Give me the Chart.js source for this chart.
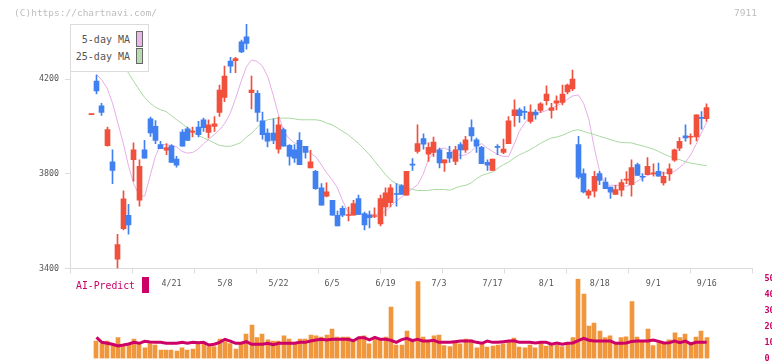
<!DOCTYPE html>
<html>
<head>
<meta charset="utf-8">
<script src="https://cdn.jsdelivr.net/npm/chart.js@4/dist/chart.umd.min.js"></script>
<style>
html,body{margin:0;padding:0;background:#fff;}
#wrap{position:relative;width:772px;height:361px;overflow:hidden;font-family:"DejaVu Sans Mono",monospace;}
canvas{position:absolute;left:0;top:0;}
.t{position:absolute;white-space:pre;line-height:10px;}
#legend{position:absolute;left:70px;top:24px;width:79px;height:48px;box-sizing:border-box;border:1px solid #dcdcdc;background:#fff;}
.sw{position:absolute;width:7px;height:16px;box-sizing:border-box;border:1px solid #666;}
</style>
</head>
<body>
<div id="wrap">
  <canvas id="vol" width="772" height="361"></canvas>
  <canvas id="price" width="772" height="361"></canvas>
  <div class="t" style="left:14px;top:8px;font-size:9.5px;color:#bdbdbd;">(C)https://chartnavi.com/</div>
  <div class="t" style="left:700px;width:57px;text-align:right;top:8px;font-size:9.5px;color:#bdbdbd;">7911</div>
  <div id="legend"></div>
  <div class="t" style="left:72px;width:58px;text-align:right;top:35px;font-size:10px;color:#555;">5-day MA</div>
  <div class="sw" style="left:136px;top:31px;background:#e8b8e8;"></div>
  <div class="t" style="left:72px;width:58px;text-align:right;top:52px;font-size:10px;color:#555;">25-day MA</div>
  <div class="sw" style="left:136px;top:48px;background:#b8dcb0;"></div>
  <div class="t" style="left:76px;top:281px;font-size:9.8px;color:#cc0066;">AI-Predict</div>
  <div style="position:absolute;left:142px;top:277px;width:7px;height:16px;background:#cc0066;"></div>
</div>
<script>
// ---- data ----
const opens = [
4051,4193,4088,3919,3851,3439,3568,3625,3860,3689,
3902,4033,4001,3924,3900,3919,3863,3977,3991,3977,
3998,4029,3975,4001,4060,4124,4277,4279,4359,4380,
4144,4141,4025,3973,3973,3905,3987,3921,3902,3942,
3917,3825,3811,3741,3706,3688,3625,3654,3624,3626,
3696,3632,3626,3620,3589,3660,3678,3715,3751,3710,
3839,3895,3949,3884,3891,3902,3846,3891,3853,3924,
3902,3996,3944,3912,3849,3815,3914,3891,3928,4046,
4071,4062,4022,4061,4068,4110,4068,4099,4102,4147,
4159,3924,3801,3710,3727,3801,3766,3744,3713,3731,
3774,3755,3839,3788,3797,3800,3811,3762,3800,3858,
3909,3961,3955,3956,4037,4034];
const highs = [
4053,4218,4099,3998,3902,3545,3728,3671,3931,3860,
3942,4040,4026,3938,3928,3924,3874,3987,3998,3998,
4022,4036,4029,4043,4176,4256,4293,4293,4366,4433,
4214,4152,4061,3991,4033,4040,3994,3924,3924,3975,
3917,3900,3815,3759,3762,3688,3643,3664,3660,3688,
3710,3639,3643,3657,3710,3741,3755,3759,3755,3811,
3865,4008,3970,3931,3956,3909,3860,3917,3917,3933,
3959,4029,3952,3917,3860,3863,3924,3947,4043,4113,
4078,4085,4092,4071,4102,4172,4099,4130,4176,4180,
4239,3959,3822,3734,3811,3811,3783,3744,3752,3776,
3810,3860,3846,3801,3869,3843,3846,3808,3843,3905,
3954,4008,3970,4050,4064,4096];
const lows = [
4051,4138,4047,3917,3759,3400,3563,3545,3769,3664,
3867,3959,3928,3907,3881,3849,3828,3917,3942,3956,
3956,3980,3952,3980,4043,4106,4228,4228,4313,4328,
4075,4022,3947,3914,3928,3888,3917,3837,3849,3839,
3867,3825,3734,3668,3703,3626,3580,3619,3601,3626,
3629,3563,3572,3615,3580,3622,3660,3664,3713,3710,
3815,3888,3905,3853,3874,3825,3811,3849,3839,3863,
3891,3938,3891,3843,3815,3815,3881,3886,3928,4001,
4018,4032,4015,4032,4060,4092,4036,4071,4092,4138,
4152,3780,3720,3696,3703,3755,3738,3696,3713,3706,
3759,3706,3794,3769,3797,3790,3790,3752,3773,3853,
3898,3938,3926,3940,3989,4022];
const closes = [
4053,4151,4060,3987,3815,3501,3695,3584,3902,3832,
3867,3973,3942,3907,3911,3849,3837,3917,3942,3980,
3966,3996,4008,4012,4155,4214,4256,4288,4316,4352,
4155,4060,3966,3938,3942,4008,3917,3874,3867,3839,
3891,3851,3738,3668,3724,3626,3580,3626,3628,3675,
3629,3584,3615,3622,3696,3720,3741,3713,3713,3811,
3837,3928,3926,3912,3935,3846,3860,3867,3902,3902,
3944,3961,3917,3843,3837,3863,3912,3905,4025,4071,
4046,4060,4061,4050,4096,4138,4080,4109,4138,4176,
4201,3786,3724,3727,3790,3773,3738,3723,3734,3763,
3776,3827,3794,3786,3832,3802,3790,3790,3822,3902,
3938,3952,3957,4050,4035,4081];
const ma5 = [
null,4221,4197,4162,4099,4015,3930,3832,3755,3709,
3706,3790,3874,3924,3924,3919,3914,3895,3888,3891,
3905,3928,3947,3966,3987,4015,4057,4120,4190,4253,
4282,4276,4256,4211,4134,4050,3980,3949,3931,3924,
3907,3888,3872,3839,3804,3776,3741,3685,3639,3629,
3629,3629,3629,3629,3632,3643,3664,3685,3702,3720,
3737,3755,3797,3860,3888,3905,3909,3900,3886,3877,
3881,3895,3919,3928,3909,3895,3881,3874,3874,3924,
3980,4015,4040,4054,4060,4068,4078,4088,4099,4116,
4130,4134,4099,4029,3909,3811,3755,3752,3752,3752,
3748,3755,3769,3783,3794,3801,3804,3804,3804,3811,
3828,3849,3881,3924,3973,4018];
const ma25 = [
null,null,null,null,null,4295,4267,4225,4190,4155,
4123,4099,4082,4071,4064,4046,4029,4012,3994,3977,
3963,3952,3942,3931,3921,3917,3917,3924,3933,3956,
3972,3996,4019,4029,4033,4036,4036,4036,4033,4029,
4029,4029,4029,4025,4015,4008,3994,3980,3966,3947,
3928,3905,3881,3853,3825,3797,3773,3759,3751,3741,
3734,3730,3730,3730,3734,3734,3734,3731,3740,3748,
3752,3762,3780,3794,3801,3808,3824,3839,3850,3867,
3881,3891,3902,3916,3930,3942,3952,3956,3963,3973,
3983,3987,3980,3973,3966,3959,3952,3945,3938,3933,
3932,3931,3924,3919,3912,3905,3895,3884,3874,3867,
3860,3851,3846,3842,3838,3835];
const volume = [
null,10.9,9.3,10.9,8.4,13.0,8.4,8.9,12.2,9.3,
6.6,9.3,8.4,5.3,5.3,5.3,4.7,6.6,5.3,5.9,
8.9,9.3,7.4,7.4,12.2,10.5,9.3,5.9,9.3,15.3,
20.9,13.0,15.3,11.6,10.9,10.9,14.1,12.2,9.5,12.2,
12.2,14.7,14.1,13.4,14.7,18.4,13.4,13.4,13.4,10.9,
13.4,14.1,9.1,12.2,12.2,13.4,32.2,8.4,8.4,17.2,
12.2,48.0,13.4,10.9,14.1,14.7,8.0,7.4,10.9,9.1,
12.2,11.6,6.6,9.1,7.2,7.8,8.4,9.1,10.9,12.8,
7.2,6.6,8.4,6.6,9.7,7.8,8.4,8.4,7.4,9.9,
13.0,49.7,40.3,20.3,22.2,17.2,13.0,14.1,9.1,13.0,
13.6,35.5,13.4,10.9,18.4,8.0,10.9,9.1,11.6,16.1,
13.0,15.3,9.1,13.4,17.2,13.0];
const aiPredict = [
null,13.2,10.1,9.5,8.9,7.8,8.4,9.1,10.1,9.5,
10.7,10.3,10.1,10.1,9.5,9.5,9.5,10.1,9.5,10.1,
9.9,10.1,8.4,8.9,10.1,12.0,10.9,9.5,9.5,10.5,
8.9,8.9,8.9,9.5,8.6,9.5,9.5,9.5,9.5,10.1,
10.1,10.9,11.6,12.0,11.6,12.0,12.0,12.0,12.0,11.1,
13.0,13.0,11.6,13.2,12.0,12.0,11.4,10.1,11.8,12.6,
11.1,12.0,10.9,10.9,11.4,10.1,10.1,10.1,10.5,10.9,
10.9,10.9,10.1,9.5,10.9,10.1,10.1,10.5,10.9,11.1,
10.1,10.1,10.1,9.7,10.1,10.1,8.9,9.7,8.9,9.5,
9.7,11.1,12.6,11.4,10.9,10.9,10.9,10.9,9.5,9.5,
9.7,10.7,10.9,10.9,10.9,11.6,10.7,9.7,9.9,10.9,
9.9,10.9,9.1,10.1,10.1,10.1];
const dateIndex = [15,25,35,45,55,65,75,85,95,105,115];
const dateLabels = ['4/21','5/8','5/22','6/5','6/19','7/3','7/17','8/1','8/18','9/1','9/16'];
const priceTicks = [3400,3800,4200];
const volTicks = [0,10,20,30,40,50];

// ---- setup ----
const FONT = "'DejaVu Sans Mono', monospace";
const XMIN = -3.95, XMAX = 123.55;
const UP = '#f0503c', DOWN = '#4080f0';
const idx = closes.map((_, i) => i);
const colorOf = (i) => closes[i] >= opens[i] ? UP : DOWN;

const snapBars = {
  id: 'snapBars',
  afterDatasetsUpdate(chart) {
    chart.data.datasets.forEach((ds, di) => {
      const meta = chart.getDatasetMeta(di);
      if (meta.type !== 'bar') return;
      meta.data.forEach(el => {
        const w = el.width;
        el.x = Math.round(el.x - w / 2) + w / 2;
      });
    });
  }
};

new Chart(document.getElementById('price'), {
  type: 'bar',
  data: {
    datasets: [
      { type: 'bar', label: 'wick', data: idx.map(i => ({x: i, y: [lows[i], highs[i]]})),
        backgroundColor: c => colorOf(c.dataIndex), barThickness: 1, grouped: false, order: 2 },
      { type: 'bar', label: 'body', data: idx.map(i => ({x: i, y: [opens[i], closes[i]]})),
        backgroundColor: c => colorOf(c.dataIndex), barThickness: 5, minBarLength: 1, grouped: false, order: 1 },
      { type: 'line', label: '5-day MA', data: idx.map(i => ({x: i, y: ma5[i]})),
        borderColor: '#e6aee6', borderWidth: 1, pointRadius: 0, fill: false, order: 3 },
      { type: 'line', label: '25-day MA', data: idx.map(i => ({x: i, y: ma25[i]})),
        borderColor: '#a8d8a0', borderWidth: 1, pointRadius: 0, fill: false, order: 4 }
    ]
  },
  options: {
    responsive: false, animation: false, devicePixelRatio: 1,
    layout: { padding: { left: 0, right: 19.5, top: 24, bottom: 67.5 } },
    plugins: { legend: { display: false }, tooltip: { enabled: false } },
    scales: {
      x: {
        type: 'linear', min: XMIN, max: XMAX, offset: false, position: 'bottom', weight: 0,
        afterBuildTicks: s => { s.ticks = Array.from({length: 12}, (_, k) => ({value: XMIN + k * (XMAX - XMIN) / 11})); },
        ticks: { callback: () => '', autoSkip: false, maxRotation: 0 },
        grid: { drawOnChartArea: false, drawTicks: true, tickLength: 5, color: '#dcdcdc', offset: false },
        border: { color: '#dcdcdc' },
        afterFit: s => { s.height = 5; s.paddingLeft = 0; s.paddingRight = 0; }
      },
      xd: {
        type: 'linear', min: XMIN, max: XMAX, offset: false, position: 'bottom', weight: 1,
        afterBuildTicks: s => { s.ticks = dateIndex.map(v => ({value: v})); },
        ticks: { callback: v => dateLabels[dateIndex.indexOf(v)], autoSkip: false, maxRotation: 0,
                 font: { family: FONT, size: 8.3 }, color: '#555', padding: -2.5 },
        grid: { display: false }, border: { display: false },
        afterFit: s => { s.height = 20; s.paddingLeft = 0; s.paddingRight = 0; }
      },
      y: {
        type: 'linear', min: 3400, max: 4434, position: 'left',
        afterBuildTicks: s => { s.ticks = priceTicks.map(v => ({value: v})); },
        ticks: { callback: v => String(v), font: { family: FONT, size: 8.3 }, color: '#555', padding: 6 },
        grid: { drawOnChartArea: false, tickLength: 5, color: '#dcdcdc' },
        border: { color: '#dcdcdc' },
        afterFit: s => { s.width = 70; s.paddingTop = 0; s.paddingBottom = 0; }
      }
    }
  },
  plugins: [snapBars]
});

new Chart(document.getElementById('vol'), {
  type: 'bar',
  data: {
    datasets: [
      { type: 'line', label: 'AI-Predict', data: idx.map(i => ({x: i, y: aiPredict[i]})),
        borderColor: '#cc0066', borderWidth: 3, pointRadius: 0, fill: false, order: 0 },
      { type: 'bar', label: 'volume', data: idx.map(i => ({x: i, y: volume[i]})),
        backgroundColor: '#f0963c', barThickness: 4, grouped: false, order: 1 }
    ]
  },
  options: {
    responsive: false, animation: false, devicePixelRatio: 1,
    layout: { padding: { left: 70, right: 0, top: 278.5, bottom: 2.5 } },
    plugins: { legend: { display: false }, tooltip: { enabled: false } },
    scales: {
      x: { type: 'linear', min: XMIN, max: XMAX, offset: false, display: false },
      y: {
        type: 'linear', min: 0, max: 50, position: 'right',
        afterBuildTicks: s => { s.ticks = volTicks.map(v => ({value: v})); },
        ticks: { callback: v => String(v), font: { family: FONT, size: 8.5, weight: 'bold' }, color: '#cc0066', padding: 4 },
        grid: { display: false }, border: { display: false },
        afterFit: s => { s.width = 19.5; s.paddingTop = 0; s.paddingBottom = 0; }
      }
    }
  },
  plugins: [snapBars]
});
</script>
</body>
</html>
